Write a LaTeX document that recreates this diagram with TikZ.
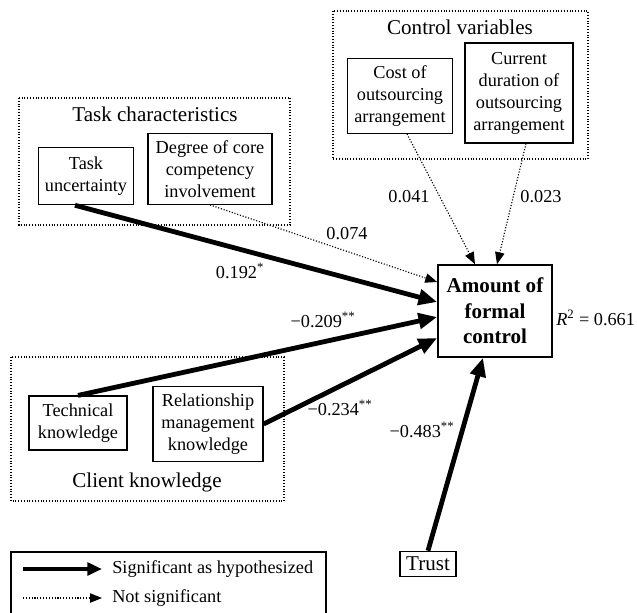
\documentclass[tikz,border=0pt]{standalone}
\usepackage{fontspec}
\setmainfont{Liberation Serif}
\usetikzlibrary{arrows.meta,calc}

\begin{document}
\begin{tikzpicture}[x=0.75pt,y=-0.75pt,
    font=\fontsize{13.7}{16.5}\selectfont,
    bigtext/.style={font=\fontsize{15.8}{19}\selectfont},
    varbox/.style={draw, line width=0.9pt, align=center, inner sep=1pt},
    groupbox/.style={draw, line width=0.8pt, dash pattern=on 0.8pt off 1.3pt},
    sig/.style={line width=3.6pt, -{Triangle[length=14pt,width=11.5pt]}},
    nsig/.style={line width=0.85pt, dash pattern=on 0.85pt off 1.3pt, -{Triangle[length=9pt,width=7pt]}}]
    \clip (0,0) rectangle (637,612);
    % groups
    \draw[groupbox] (333,11) rectangle (588,159);
    \node[bigtext] (ctrltitle) at (460,27) {Control variables};
    \draw[groupbox] (19,98) rectangle (290,225);
    \node[bigtext] (tasktitle) at (155,114) {Task characteristics};
    \draw[groupbox] (11,357) rectangle (284,501);
    \node[bigtext] (clienttitle) at (147,482) {Client knowledge};
    % variables
    \node[varbox, minimum width=78.75pt, minimum height=56pt] (cost) at (400,96) {Cost of\\outsourcing\\arrangement};
    \node[varbox, minimum width=81pt, minimum height=75pt] (dur) at (519,93) {Current\\duration of\\outsourcing\\arrangement};
    \node[varbox, minimum width=71pt, minimum height=43pt] (tu) at (86,176) {Task\\uncertainty};
    \node[varbox, minimum width=93pt, minimum height=53pt] (core) at (210,169) {Degree of core\\competency\\involvement};
    \node[varbox, minimum width=73.5pt, minimum height=40.5pt] (tech) at (78,423) {Technical\\knowledge};
    \node[varbox, minimum width=82.5pt, minimum height=56pt] (rel) at (208,424) {Relationship\\management\\knowledge};
    \node[varbox, line width=1.2pt, minimum width=85.5pt, minimum height=69pt, font=\fontsize{15.8}{19}\selectfont\bfseries] (formal) at (495,311) {Amount of\\formal\\control};
    \node[varbox, bigtext, minimum width=42pt, minimum height=19pt] (trust) at (428,564) {Trust};
    % paths
    \draw[nsig] ($(cost.south)+(7,0)$) -- ($(formal.north)+(-20,0)$);
    \draw[nsig] ($(dur.south)+(7,0)$) -- ($(formal.north)+(2,0)$);
    \draw[nsig] (core.south) -- ($(formal.west)+(0,-29)$);
    \draw[sig] ($(tu.south)+(-11,0)$) -- ($(formal.west)+(0,-9)$);
    \draw[sig] (tech.north) -- ($(formal.west)+(0,6)$);
    \draw[sig] (rel.east) -- ($(formal.west)+(0,27)$);
    \draw[sig] (trust.north) -- ($(formal.south)+(-12,0)$);
    % coefficients
    \node (c041) at (409,197) {0.041};
    \node (c023) at (541,197) {0.023};
    \node (c074) at (347,234) {0.074};
    \node (c192) at (240,271) {0.192\textsuperscript{*}};
    \node (c209) at (323,320) {−0.209\textsuperscript{**}};
    \node (c234) at (340,408) {−0.234\textsuperscript{**}};
    \node (c483) at (422,430) {−0.483\textsuperscript{**}};
    \node[right, inner sep=0pt] (rsq) at (556,318) {\textit{R}\textsuperscript{2} = 0.661};
    % legend
    \draw[line width=0.9pt] (11,552) rectangle (326,640);
    \coordinate (sigA) at (23,569);
    \coordinate (sigB) at (102,569);
    \coordinate (nsA) at (23,598);
    \coordinate (nsB) at (102,598);
    \draw[sig, -{Triangle[length=11pt,width=9.5pt]}] (sigA) -- (sigB);
    \draw[nsig] (nsA) -- (nsB);
    \node[right, inner sep=0pt] (sigtext) at (112,569) {Significant as hypothesized};
    \node[right, inner sep=0pt] (nstext) at (112,598) {Not significant};
\end{tikzpicture}
\end{document}
